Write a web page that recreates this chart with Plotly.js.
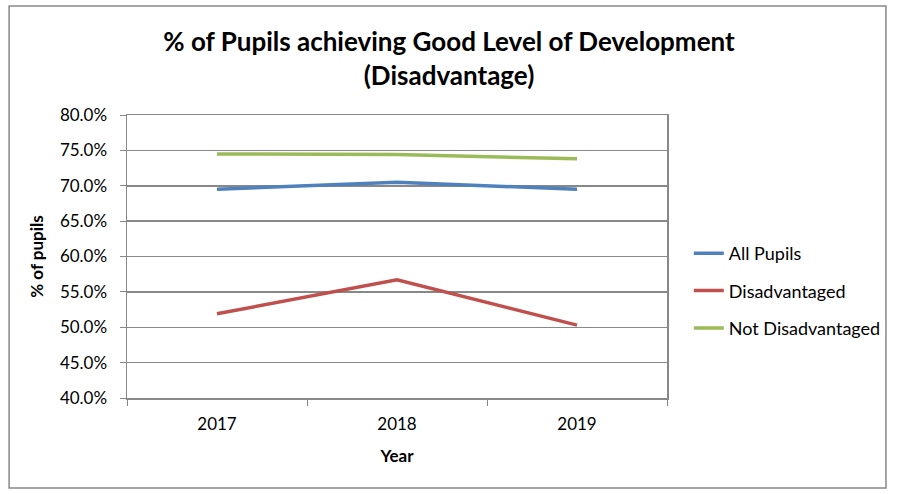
<!DOCTYPE html>
<html>
<head>
<meta charset="utf-8">
<script src="https://cdn.plot.ly/plotly-3.0.1.min.js"></script>
<style>html,body{margin:0;padding:0;background:#fff;}#chart{width:898px;height:494px;}</style>
</head>
<body>
<div id="chart"></div>
<script>
const years = ['2017', '2018', '2019'];
const allPupils = [0.695, 0.705, 0.695];
const disadvantaged = [0.519, 0.567, 0.503];
const notDisadvantaged = [0.745, 0.744, 0.738];
const seriesNames = ['All Pupils', 'Disadvantaged', 'Not Disadvantaged'];
const seriesColors = ['#4F81BD', '#C0504D', '#9BBB59'];
const seriesValues = [allPupils, disadvantaged, notDisadvantaged];

const W = 898, H = 494;
const L = 127, R = 672, T = 115, B = 398;
const px = x => (x - L) / (R - L);
const py = y => (B - y) / (B - T);

const traces = seriesValues.map((v, i) => ({
  x: years, y: v, type: 'scatter', mode: 'lines', name: seriesNames[i],
  legendgroup: 'g' + i,
  line: {color: seriesColors[i], width: 3.5}
}));

const font = 'Lato, "Open Sans", sans-serif';
const layout = {
  width: W, height: H,
  margin: {l: L, r: W - R, t: T, b: H - B},
  paper_bgcolor: '#fff', plot_bgcolor: '#fff',
  font: {family: font, size: 17, color: '#000'},
  title: {
    text: '<b>% of Pupils achieving Good Level of Development<br>(Disadvantage)</b>',
    font: {family: font, size: 26, color: '#000'},
    x: 0.5, xref: 'container', xanchor: 'center',
    y: 1 - 51 / H, yref: 'container', yanchor: 'middle'
  },
  xaxis: {
    type: 'category', range: [-0.5, 2.5],
    tickson: 'boundaries', ticks: 'outside', ticklen: 6, tickcolor: '#888',
    ticklabelstandoff: 10,
    showline: true, linecolor: '#888', linewidth: 1.5, mirror: true,
    showgrid: false, zeroline: false,
    tickfont: {family: font, size: 17, color: '#000'},
    title: {text: '<b>Year</b>', font: {family: font, size: 17, color: '#000'}, standoff: 17}
  },
  yaxis: {
    range: [0.40, 0.80], dtick: 0.05, tickformat: '.1%',
    ticks: 'outside', ticklen: 6, tickcolor: '#888',
    ticklabelstandoff: 9,
    showline: true, linecolor: '#888', linewidth: 1.5, mirror: true,
    showgrid: true, gridcolor: '#888', gridwidth: 1.5, zeroline: false,
    tickfont: {family: font, size: 17, color: '#000'},
    title: {text: '<b>% of pupils</b>', font: {family: font, size: 17, color: '#000'}, standoff: 12}
  },
  legend: {
    x: px(694), xanchor: 'left', y: py(291), yanchor: 'middle',
    traceorder: 'grouped', tracegroupgap: 11,
    font: {family: font, size: 18, color: '#000'},
    bgcolor: 'rgba(0,0,0,0)'
  },
  shapes: [{
    type: 'rect', xref: 'paper', yref: 'paper',
    x0: px(8), x1: px(893), y0: py(488), y1: py(6),
    line: {color: '#888', width: 1.5}, fillcolor: 'rgba(0,0,0,0)', layer: 'below'
  }]
};

Plotly.newPlot('chart', traces, layout, {displayModeBar: false, staticPlot: true});
</script>
</body>
</html>
